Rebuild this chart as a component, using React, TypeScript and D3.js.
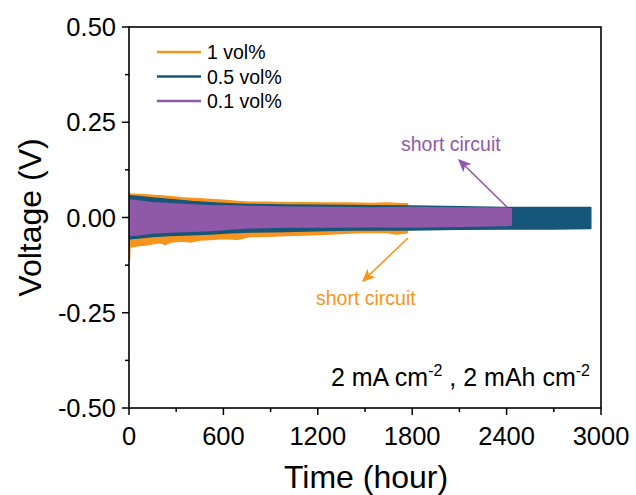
import React from "react";
import * as d3 from "d3";

// ---- Data ----
const seriesNames = ["1 vol%", "0.5 vol%", "0.1 vol%"];
const seriesColors = ["#F7941D", "#17567B", "#9059A8"];

// 1 vol% envelope (hours, upper V, lower V)
const t1 = [0, 3, 6, 40, 100, 160, 200, 230, 260, 330, 400, 450, 515, 600, 690, 770, 880, 1000, 1120, 1250, 1400, 1530, 1650, 1700, 1770];
const up1 = [0.06, 0.063, 0.062, 0.061, 0.06, 0.058, 0.057, 0.056, 0.055, 0.052, 0.05, 0.049, 0.047, 0.045, 0.042, 0.04, 0.04, 0.039, 0.039, 0.038, 0.038, 0.037, 0.038, 0.037, 0.036];
const lo1 = [-0.1, -0.113, -0.078, -0.075, -0.072, -0.068, -0.066, -0.071, -0.065, -0.062, -0.064, -0.059, -0.058, -0.055, -0.057, -0.05, -0.049, -0.047, -0.046, -0.044, -0.041, -0.039, -0.04, -0.043, -0.04];

// 0.5 vol% envelope
const t2 = [0, 6, 60, 150, 260, 400, 515, 640, 770, 1000, 1250, 1530, 1800, 2100, 2400, 2700, 2935];
const up2 = [0.056, 0.057, 0.055, 0.051, 0.047, 0.042, 0.039, 0.036, 0.034, 0.033, 0.032, 0.031, 0.03, 0.028, 0.026, 0.026, 0.026];
const lo2 = [-0.05, -0.056, -0.054, -0.05, -0.047, -0.045, -0.043, -0.04, -0.038, -0.037, -0.034, -0.032, -0.033, -0.031, -0.03, -0.03, -0.029];

// 0.1 vol% envelope
const t3 = [0, 6, 60, 150, 260, 400, 515, 640, 770, 1000, 1250, 1530, 1800, 2100, 2400, 2430];
const up3 = [0.048, 0.046, 0.043, 0.039, 0.036, 0.033, 0.031, 0.03, 0.029, 0.027, 0.026, 0.025, 0.026, 0.025, 0.024, 0.023];
const lo3 = [-0.045, -0.047, -0.045, -0.041, -0.038, -0.036, -0.034, -0.03, -0.027, -0.025, -0.025, -0.024, -0.025, -0.023, -0.021, -0.02];

const xTicks = [0, 600, 1200, 1800, 2400, 3000];
const xMinorTicks = [300, 900, 1500, 2100, 2700];
const yTicks = [0.5, 0.25, 0, -0.25, -0.5];
const yTickLabels = ["0.50", "0.25", "0.00", "-0.25", "-0.50"];
const yMinorTicks = [0.375, 0.125, -0.125, -0.375];

const W = 636;
const H = 495;
const plot = { left: 129, right: 601, top: 27, bottom: 408 };

export default function App() {
  const x = d3.scaleLinear().domain([0, 3000]).range([plot.left, plot.right]);
  const y = d3.scaleLinear().domain([-0.5, 0.5]).range([plot.bottom, plot.top]);

  const bands = [
    { t: t1, up: up1, lo: lo1 },
    { t: t2, up: up2, lo: lo2 },
    { t: t3, up: up3, lo: lo3 },
  ];

  const area = d3
    .area<[number, number, number]>()
    .x((d) => x(d[0]))
    .y0((d) => y(d[2]))
    .y1((d) => y(d[1]))
    .curve(d3.curveLinear);

  const font = "'Liberation Sans', Arial, sans-serif";

  return (
    <svg width={W} height={H} style={{ position: "absolute", left: 0, top: 0, background: "#fff" }} fontFamily={font}>
      <defs>
        <marker id="arrP" viewBox="0 0 10 10" refX="9" refY="5" markerWidth="13" markerHeight="13" markerUnits="userSpaceOnUse" orient="auto">
          <path d="M0,0.5 L10,5 L0,9.5 L2.5,5 z" fill={seriesColors[2]} />
        </marker>
        <marker id="arrO" viewBox="0 0 10 10" refX="9" refY="5" markerWidth="13" markerHeight="13" markerUnits="userSpaceOnUse" orient="auto">
          <path d="M0,0.5 L10,5 L0,9.5 L2.5,5 z" fill={seriesColors[0]} />
        </marker>
        <clipPath id="clip">
          <rect x={plot.left} y={plot.top} width={plot.right - plot.left} height={plot.bottom - plot.top} />
        </clipPath>
      </defs>

      <g clipPath="url(#clip)">
        {bands.map((b, i) => {
          const pts: [number, number, number][] = b.t.map((t, k) => [t, b.up[k], b.lo[k]]);
          return (
            <path
              key={i}
              d={area(pts) || ""}
              fill={seriesColors[i]}
              stroke={seriesColors[i]}
              strokeWidth={1.5}
              strokeLinejoin="round"
            />
          );
        })}
      </g>

      {/* frame */}
      <rect
        x={plot.left}
        y={plot.top}
        width={plot.right - plot.left}
        height={plot.bottom - plot.top}
        fill="none"
        stroke="#000"
        strokeWidth={1.6}
      />

      {/* x axis ticks */}
      {xTicks.map((t) => (
        <g key={"xt" + t}>
          <line x1={x(t)} x2={x(t)} y1={plot.bottom} y2={plot.bottom + 7} stroke="#000" strokeWidth={1.5} />
          <text x={x(t)} y={445} textAnchor="middle" fontSize={25.5} fill="#000">
            {t}
          </text>
        </g>
      ))}
      {xMinorTicks.map((t) => (
        <line key={"xm" + t} x1={x(t)} x2={x(t)} y1={plot.bottom} y2={plot.bottom + 4} stroke="#000" strokeWidth={1.5} />
      ))}

      {/* y axis ticks */}
      {yTicks.map((v, i) => (
        <g key={"yt" + v}>
          <line x1={plot.left - 7} x2={plot.left} y1={y(v)} y2={y(v)} stroke="#000" strokeWidth={1.5} />
          <text x={116} y={y(v) + 9} textAnchor="end" fontSize={25.5} fill="#000">
            {yTickLabels[i]}
          </text>
        </g>
      ))}
      {yMinorTicks.map((v) => (
        <line key={"ym" + v} x1={plot.left - 4} x2={plot.left} y1={y(v)} y2={y(v)} stroke="#000" strokeWidth={1.5} />
      ))}

      {/* axis titles */}
      <text x={366} y={488} textAnchor="middle" fontSize={32} fill="#000">
        Time (hour)
      </text>
      <text
        transform={`translate(41, ${(plot.top + plot.bottom) / 2}) rotate(-90)`}
        textAnchor="middle"
        fontSize={32}
        fill="#000"
      >
        Voltage (V)
      </text>

      {/* legend */}
      {seriesNames.map((name, i) => {
        const ly = 52 + i * 24.5;
        return (
          <g key={name}>
            <line x1={157} x2={201} y1={ly} y2={ly} stroke={seriesColors[i]} strokeWidth={2.5} />
            <text x={207} y={ly + 7} fontSize={19.5} fill="#000">
              {name}
            </text>
          </g>
        );
      })}

      {/* annotations */}
      <text x={401} y={151} fontSize={19.5} fill={seriesColors[2]}>
        short circuit
      </text>
      <line x1={507} y1={207} x2={459} y2={160} stroke={seriesColors[2]} strokeWidth={1.6} markerEnd="url(#arrP)" />

      <text x={316} y={305} fontSize={19.5} fill={seriesColors[0]}>
        short circuit
      </text>
      <line x1={408} y1={238} x2={363} y2={281} stroke={seriesColors[0]} strokeWidth={1.6} markerEnd="url(#arrO)" />

      <text x={590} y={386} textAnchor="end" fontSize={25} fill="#000">
        <tspan>2 mA cm</tspan>
        <tspan fontSize={16} dy={-10}>-2</tspan>
        <tspan dy={10}> , 2 mAh cm</tspan>
        <tspan fontSize={16} dy={-10}>-2</tspan>
      </text>
    </svg>
  );
}
